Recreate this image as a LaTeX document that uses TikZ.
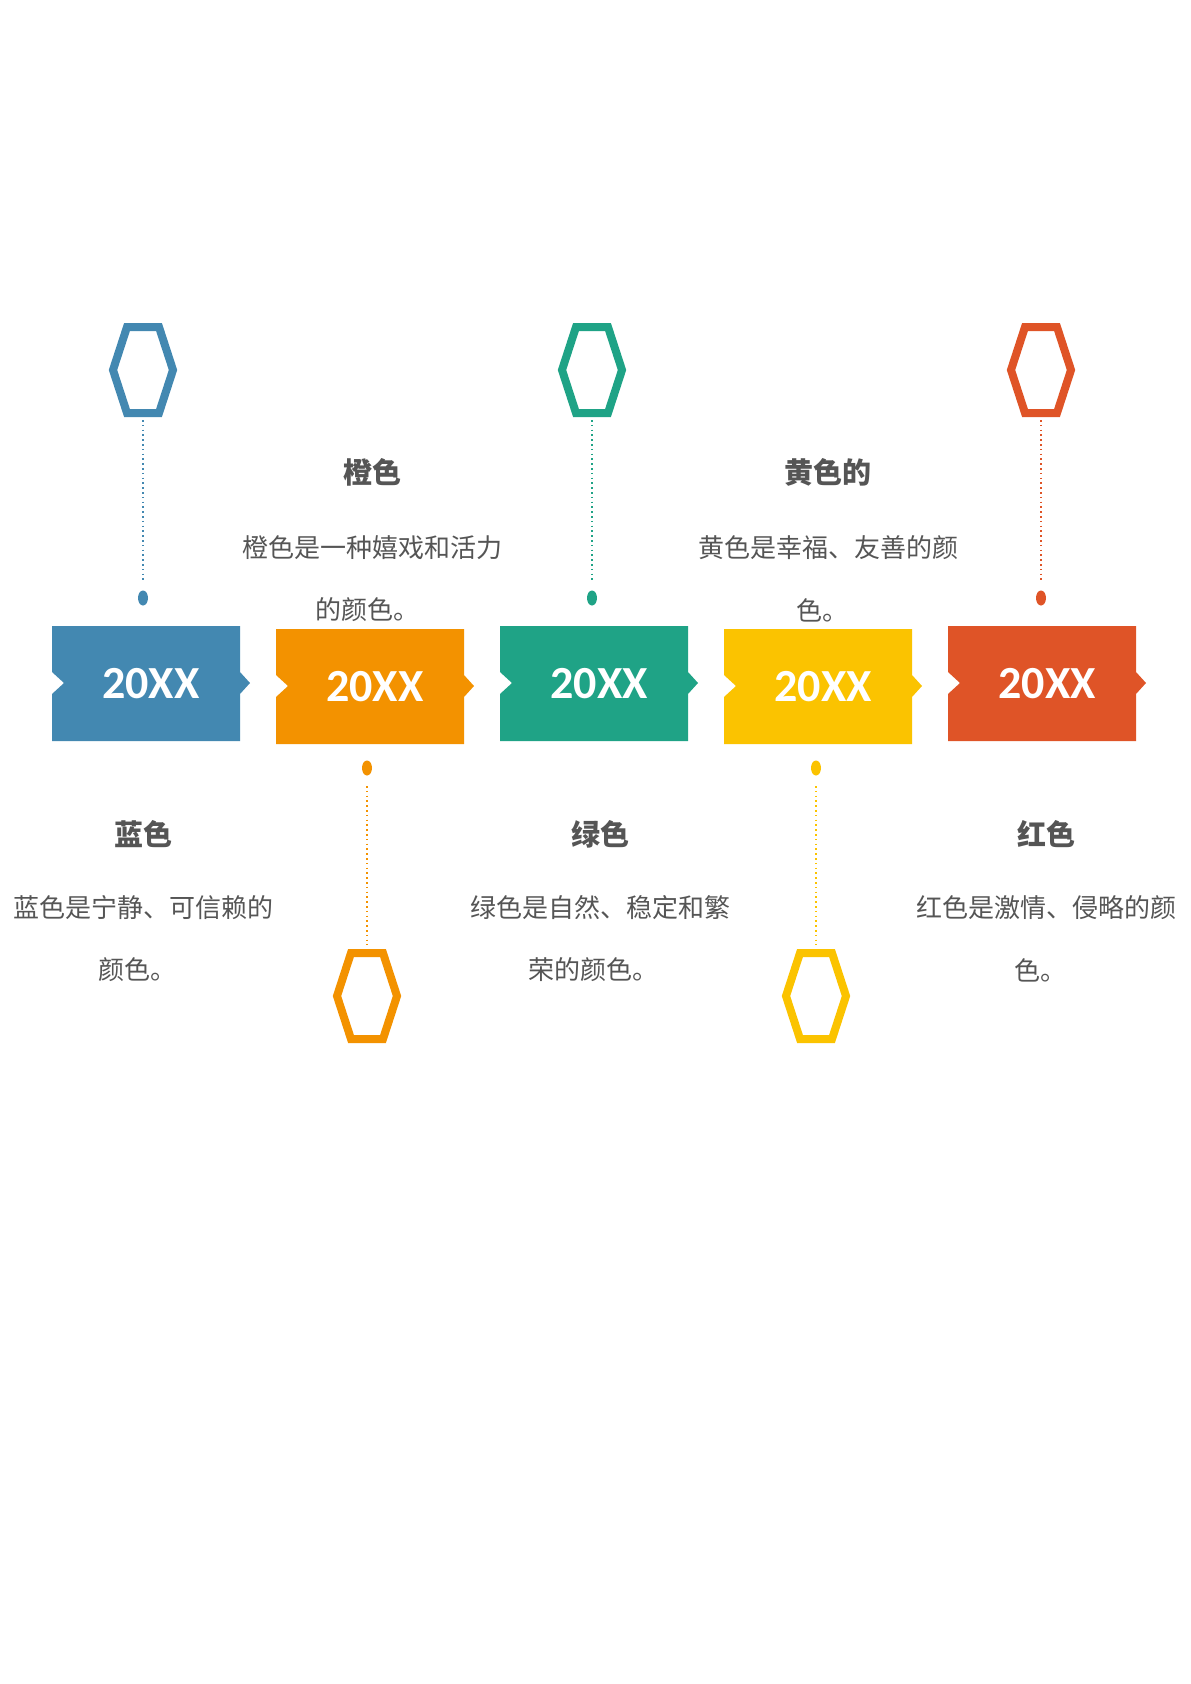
\documentclass[tikz,border=0pt]{standalone}
\usepackage{fontspec}
\setmainfont{Carlito}
\newfontfamily\cjk{Noto Sans CJK SC}
\usetikzlibrary{positioning,calc,shapes.geometric}
\definecolor{cblue}{HTML}{4388B1}
\definecolor{corange}{HTML}{F39200}
\definecolor{cgreen}{HTML}{1FA386}
\definecolor{cyellow}{HTML}{FBC300}
\definecolor{cred}{HTML}{DF5427}
\definecolor{txt}{HTML}{555555}

\begin{document}
\begin{tikzpicture}[x=1pt,y=-1pt,
        year/.style={font=\bfseries\fontsize{46}{46}\selectfont,text=white},
        head/.style={font=\cjk\bfseries\fontsize{29}{29}\selectfont,text=txt},
        body/.style={font=\cjk\fontsize{26}{26}\selectfont,text=txt},
        link/.style={line width=1.6pt,dash pattern=on 1.6pt off 3.2pt},
        dot/.style={ellipse,inner sep=0pt,minimum width=10pt,minimum height=15pt}]
  \useasboundingbox (0,0) rectangle (1191,1684);
  % year boxes
  \foreach \c/\dy [count=\i from 0] in {cblue/0,corange/3,cgreen/0,cyellow/3,cred/0} {
    \fill[\c] ($(52+224*\i,626+\dy)$) -- ++(188,0) -- ++(0,46) -- ++(10,11)
      -- ++(-10,11) -- ++(0,47) -- ++(-188,0) -- ++(0,-47) -- ++(12,-11)
      -- ++(-12,-11) -- cycle;
    \node[year] (y\i) at ($(151+224*\i,684+\dy)$) {20XX};
  }
  % hexagons, dots and links
  \foreach \x/\c/\hy/\dy/\la/\lb [count=\i] in
      {143/cblue/370/598/420/581, 592/cgreen/370/598/420/581, 1041/cred/370/598/420/581,
       367/corange/996/768/786/945, 816/cyellow/996/768/786/945} {
    \draw[\c,line width=8pt,line join=miter]
      (\x-30,\hy) -- (\x-16,\hy-43) -- (\x+16,\hy-43) -- (\x+30,\hy)
      -- (\x+16,\hy+43) -- (\x-16,\hy+43) -- cycle;
    \node[dot,fill=\c] (d\i) at (\x,\dy) {};
    \coordinate (a\i) at (\x,\la);
    \coordinate (b\i) at (\x,\lb);
    \draw[\c,link] (a\i) -- (b\i);
  }
  % upper texts
  \node[head] (h2) at (372,472) {橙色};
  \node[body] (t2a) at (372,548) {橙色是一种嬉戏和活力};
  \node[body] (t2b) at (367,610) {的颜色。};
  \node[head] (h4) at (828,472) {黄色的};
  \node[body] (t4a) at (828,548) {黄色是幸福、友善的颜};
  \node[body] (t4b) at (822,610) {色。};
  % lower texts
  \node[head] (h1) at (143,834) {蓝色};
  \node[body] (t1a) at (143,908) {蓝色是宁静、可信赖的};
  \node[body] (t1b) at (137,970) {颜色。};
  \node[head] (h3) at (600,834) {绿色};
  \node[body] (t3a) at (600,908) {绿色是自然、稳定和繁};
  \node[body] (t3b) at (593,970) {荣的颜色。};
  \node[head] (h5) at (1046,834) {红色};
  \node[body] (t5a) at (1046,908) {红色是激情、侵略的颜};
  \node[body] (t5b) at (1040,970) {色。};
\end{tikzpicture}
\end{document}
